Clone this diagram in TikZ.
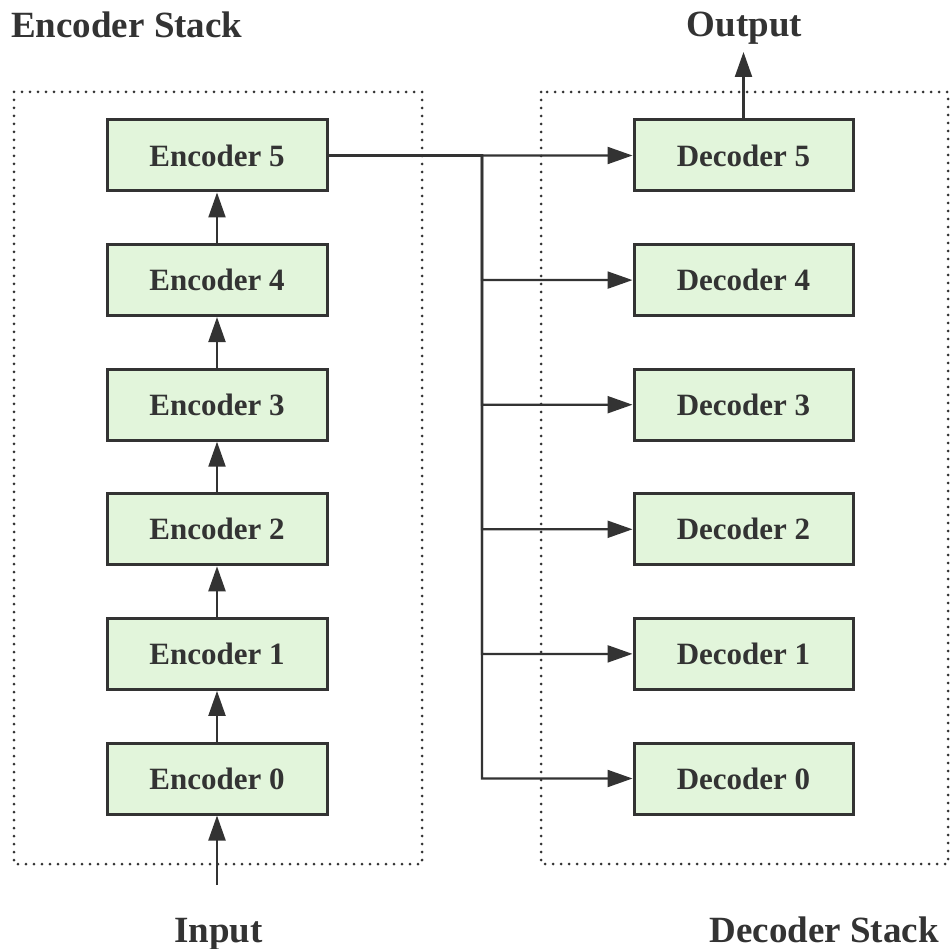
\documentclass[tikz,border=0pt]{standalone}
\usepackage{fontspec}
\setmainfont{Liberation Serif}
\usetikzlibrary{arrows.meta}
\definecolor{ink}{HTML}{333333}
\definecolor{boxfill}{HTML}{E2F5DB}
\tikzset{
  layer/.style={draw=ink, fill=boxfill, line width=3pt, minimum width=220pt,
    minimum height=71pt, inner sep=0pt, text=ink,
    font=\fontsize{31}{36}\selectfont\bfseries},
  stackframe/.style={draw=ink, line width=3pt, dash pattern=on 0pt off 8pt, line cap=round},
  flow/.style={draw=ink, line width=2.2pt, -{Triangle[length=25pt,width=17pt]}},
  title/.style={inner sep=0pt, text=ink, font=\fontsize{37}{44}\selectfont\bfseries}
}
\begin{document}
\begin{tikzpicture}[x=1pt,y=-1pt]
\useasboundingbox (0,0) rectangle (951,949);

% dotted frames of the two stacks
\draw[stackframe] (14,92) rectangle (422,864);
\draw[stackframe] (541,92) rectangle (948,864);

% encoder and decoder layers
\foreach \i in {0,...,5}{
  \pgfmathsetmacro{\yy}{778.5-124.6*\i}
  \node[layer] (enc\i) at (217,\yy) {Encoder \i};
  \node[layer, minimum width=219pt] (dec\i) at (743.5,\yy) {Decoder \i};
}

% titles and labels
\node[title, anchor=base west] (enctitle) at (11,37.5) {Encoder Stack};
\node[title, anchor=base] (outlabel) at (744.5,37) {Output};
\node[title, anchor=base] (inlabel) at (218.5,942) {Input};
\node[title, anchor=base east] (dectitle) at (939,942) {Decoder Stack};

\coordinate (inend) at (217,885);
\coordinate (outend) at (743.5,52);

% encoder chain
\draw[flow] (inend) -- (enc0.south);
\foreach \i [evaluate=\i as \j using int(\i+1)] in {0,...,4}{
  \draw[flow] (enc\i.north) -- (enc\j.south);
}

% encoder output fanned out to every decoder
\foreach \i in {0,...,5}{
  \draw[flow] (enc5.east) -- (482,155.5) -- (482,0 |- dec\i.west) -- (dec\i.west);
}

% decoder output
\draw[flow] (dec5.north) -- (outend);
\end{tikzpicture}
\end{document}
